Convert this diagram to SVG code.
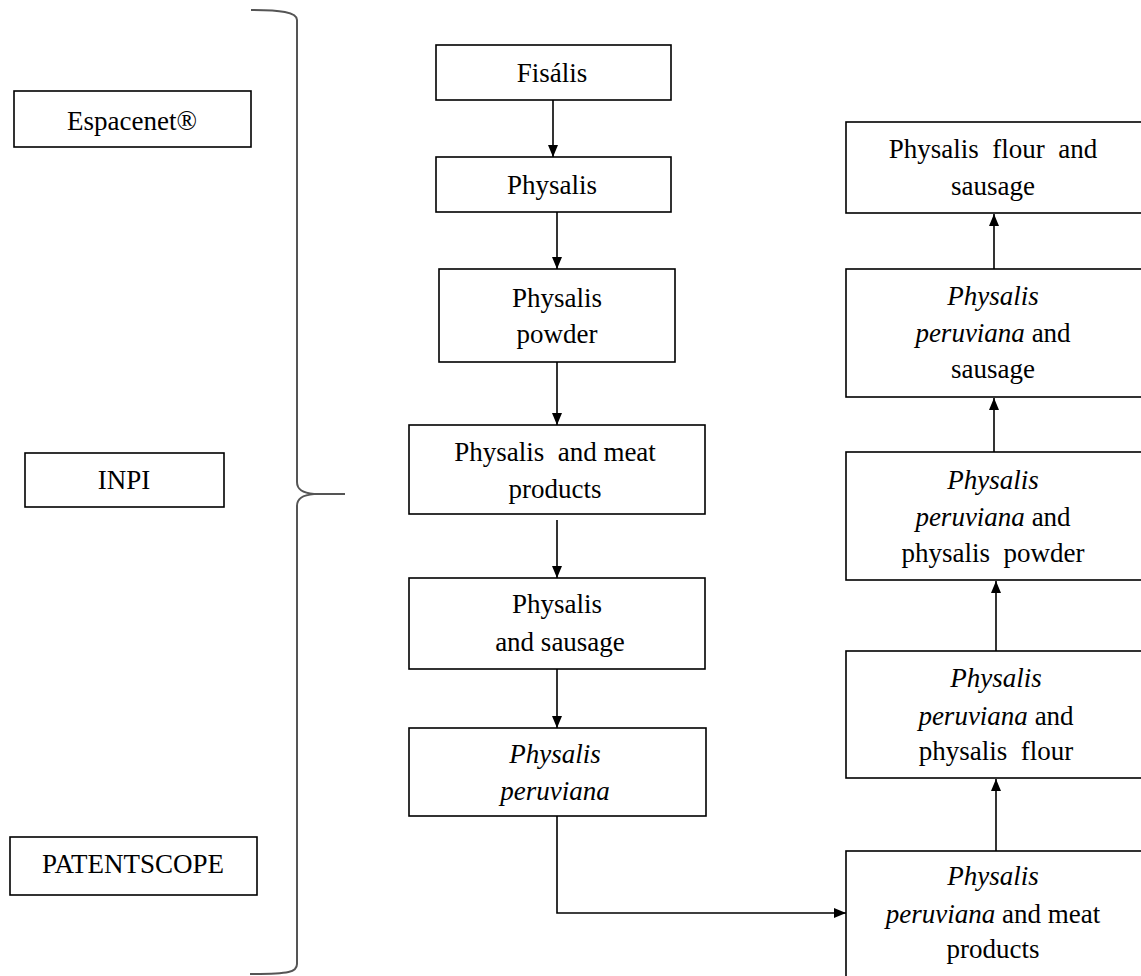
<svg xmlns="http://www.w3.org/2000/svg" width="1141" height="976" viewBox="0 0 1141 976">
<style>
.box{fill:#fff;stroke:#000;stroke-width:1.6}
text{font-family:"Liberation Serif","Times New Roman",serif;font-size:27px;fill:#000;text-anchor:middle}
.it{font-style:italic}
.con{fill:none;stroke:#000;stroke-width:1.6}
.brace{fill:none;stroke:#555;stroke-width:2}
</style>
<defs>
<marker id="ah" viewBox="0 0 12 10" refX="12" refY="5" markerWidth="12" markerHeight="10" markerUnits="userSpaceOnUse" orient="auto">
<path d="M0,0 L12,5 L0,10 Z" fill="#000"/>
</marker>
</defs>
<rect width="1141" height="976" fill="#fff"/>
<g id="brace">
<path class="brace" d="M251,10 C280,10 297,12 297,20 L297,482 C297,490 303,493 314,494 L345,494 M314,494 C303,495 297,498 297,506 L297,964 C297,972 290,974 250,974"/>
</g>
<g id="espacenet"><rect class="box" x="14" y="91" width="237" height="56"/><text x="132" y="130">Espacenet®</text></g>
<g id="inpi"><rect class="box" x="25" y="453" width="199" height="54"/><text x="124" y="489">INPI</text></g>
<g id="patentscope"><rect class="box" x="10" y="837" width="247" height="58"/><text x="133" y="873">PATENTSCOPE</text></g>
<g id="fisalis"><rect class="box" x="436" y="45" width="235" height="55"/><text x="552" y="82">Fisális</text></g>
<g id="physalis"><rect class="box" x="436" y="157" width="235" height="55"/><text x="552" y="194">Physalis</text></g>
<g id="physalis-powder"><rect class="box" x="439" y="269" width="236" height="93"/><text x="557" y="307">Physalis</text><text x="557" y="343">powder</text></g>
<g id="physalis-meat"><rect class="box" x="409" y="425" width="296" height="89"/><text x="555" y="461" xml:space="preserve">Physalis  and meat</text><text x="555" y="498">products</text></g>
<g id="physalis-sausage"><rect class="box" x="409" y="578" width="296" height="91"/><text x="557" y="613">Physalis</text><text x="560" y="651">and sausage</text></g>
<g id="physalis-peruviana"><rect class="box" x="409" y="728" width="297" height="88"/><text class="it" x="555" y="763">Physalis</text><text class="it" x="555" y="800">peruviana</text></g>
<g id="pp-meat"><rect class="box" x="846" y="851" width="320" height="140"/><text class="it" x="993" y="885">Physalis</text><text x="993" y="923"><tspan class="it">peruviana</tspan> and meat</text><text x="993" y="958">products</text></g>
<g id="pp-flour"><rect class="box" x="846" y="651" width="320" height="127"/><text class="it" x="996" y="687">Physalis</text><text x="996" y="725"><tspan class="it">peruviana</tspan> and</text><text x="996" y="760" xml:space="preserve">physalis  flour</text></g>
<g id="pp-powder"><rect class="box" x="846" y="452" width="320" height="128"/><text class="it" x="993" y="489">Physalis</text><text x="993" y="526"><tspan class="it">peruviana</tspan> and</text><text x="993" y="562" xml:space="preserve">physalis  powder</text></g>
<g id="pp-sausage"><rect class="box" x="846" y="269" width="320" height="128"/><text class="it" x="993" y="305">Physalis</text><text x="993" y="342"><tspan class="it">peruviana</tspan> and</text><text x="993" y="378">sausage</text></g>
<g id="flour-sausage"><rect class="box" x="846" y="122" width="320" height="91"/><text x="993" y="158" xml:space="preserve">Physalis  flour  and</text><text x="993" y="195">sausage</text></g>
<g id="connectors">
<path class="con" d="M553,100 L553,157" marker-end="url(#ah)"/>
<path class="con" d="M557,212 L557,269" marker-end="url(#ah)"/>
<path class="con" d="M557,362 L557,425" marker-end="url(#ah)"/>
<path class="con" d="M557,520 L557,578" marker-end="url(#ah)"/>
<path class="con" d="M557,669 L557,728" marker-end="url(#ah)"/>
<path class="con" d="M557,816 L557,913 L846,913" marker-end="url(#ah)"/>
<path class="con" d="M996,851 L996,779" marker-end="url(#ah)"/>
<path class="con" d="M996,651 L996,581" marker-end="url(#ah)"/>
<path class="con" d="M994,452 L994,398" marker-end="url(#ah)"/>
<path class="con" d="M994,269 L994,214" marker-end="url(#ah)"/>
</g>
</svg>
